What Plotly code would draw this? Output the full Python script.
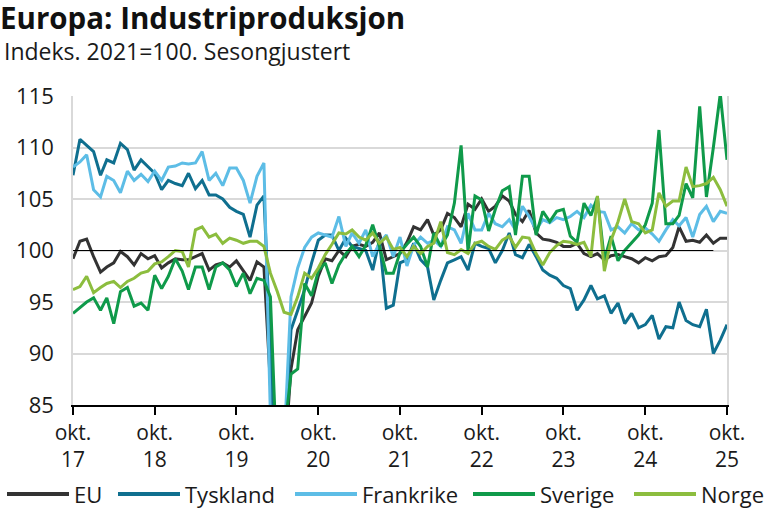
import plotly.graph_objects as go
import pandas as pd

months = pd.date_range("2017-10-01", "2025-10-01", freq="MS")

eu = [99.2, 100.9, 101.1, 99.4, 97.9, 98.4, 98.8, 99.9, 99.4, 98.6, 99.7, 99.2,
      99.5, 98.3, 98.8, 99.2, 99.1, 99.1, 99.4, 99.7, 98.1, 98.6, 98.8, 98.4,
      99.0, 98.0, 97.1, 98.9, 98.4, 87.0, 72.0, 79.0, 88.5, 92.3, 93.6, 94.9,
      97.5, 99.2, 99.0, 100.0, 99.4, 100.4, 100.6, 100.4, 100.8, 101.7, 99.1, 99.4,
      99.7, 100.8, 102.3, 102.0, 103.0, 101.5, 102.0, 103.6, 103.2, 102.3, 104.5, 104.0,
      105.0, 103.8, 104.3, 105.3, 104.8, 103.5, 102.8, 103.9, 101.7, 101.1, 101.0, 100.8,
      100.4, 100.4, 100.7, 99.7, 99.4, 99.7, 99.1, 99.5, 99.6, 99.4, 99.2, 98.8,
      99.3, 99.0, 99.4, 99.5, 100.3, 102.3, 100.9, 101.0, 100.8, 101.5, 100.7, 101.2, 101.2]

tyskland = [107.3, 110.8, 110.2, 109.6, 107.3, 108.8, 108.5, 110.4, 109.8, 107.8, 108.8, 108.1,
            107.5, 105.9, 106.8, 106.5, 106.3, 107.5, 106.0, 106.8, 105.4, 105.4, 105.0, 104.2,
            103.8, 103.5, 101.3, 104.4, 105.3, 91.0, 75.0, 80.0, 92.3, 94.2, 96.2, 98.8,
            101.0, 101.5, 101.5, 100.0, 101.2, 100.4, 100.2, 100.0, 98.1, 101.0, 94.4, 94.7,
            98.8, 99.1, 100.7, 99.1, 98.4, 95.2, 97.1, 98.8, 99.1, 99.4, 98.1, 100.7,
            100.4, 100.2, 98.8, 100.0, 101.7, 99.6, 99.3, 100.6, 99.4, 98.1, 97.6, 97.3,
            96.6, 96.3, 94.2, 95.2, 96.6, 95.3, 95.6, 93.9, 94.9, 92.9, 93.9, 92.5,
            92.8, 93.7, 91.4, 92.6, 92.5, 95.0, 93.2, 92.8, 92.6, 94.3, 90.0, 91.3, 92.8]

frankrike = [108.1, 108.6, 109.3, 105.9, 105.2, 107.2, 106.8, 105.6, 107.7, 106.8, 107.4, 106.7,
             107.7, 106.8, 108.1, 108.2, 108.5, 108.4, 108.5, 109.6, 106.8, 107.5, 106.3, 108.0,
             108.0, 106.8, 104.6, 107.2, 108.5, 84.0, 70.0, 81.0, 95.5, 98.3, 100.3, 101.3,
             101.7, 101.5, 101.3, 103.3, 100.4, 101.7, 100.7, 102.0, 99.4, 100.7, 101.5, 99.4,
             101.3, 98.5, 100.5, 101.3, 100.7, 101.0, 100.4, 102.3, 102.0, 100.7, 103.6, 102.0,
             102.0, 103.6, 102.6, 102.3, 103.0, 102.0, 104.3, 103.3, 102.0, 103.0, 102.7, 103.2,
             103.0, 103.3, 103.8, 103.2, 104.4, 103.8, 103.7, 102.0, 102.3, 101.7, 102.6, 102.0,
             102.2, 101.6, 100.9, 102.0, 103.0, 102.4, 103.2, 101.3, 103.5, 104.3, 102.8, 103.8, 103.6]

sverige = [93.9, 94.5, 95.0, 95.4, 94.2, 95.4, 92.9, 96.0, 96.4, 94.6, 94.9, 94.2,
           97.6, 96.3, 97.5, 99.2, 98.0, 96.2, 98.4, 98.4, 96.2, 98.4, 98.8, 98.1,
           96.5, 97.8, 95.8, 97.3, 97.1, 95.5, 78.0, 82.0, 88.0, 88.5, 96.8, 95.6,
           98.0, 98.8, 96.8, 98.6, 99.7, 100.4, 99.4, 100.5, 102.5, 100.4, 97.8, 97.8,
           99.8, 100.6, 101.3, 100.4, 98.4, 101.7, 100.4, 101.5, 104.6, 110.2, 99.9, 105.3,
           104.9, 101.9, 104.0, 105.8, 106.2, 101.5, 107.2, 107.2, 101.5, 103.8, 102.8, 103.8,
           104.0, 101.4, 100.8, 104.6, 103.4, 105.2, 99.1, 101.4, 99.0, 100.0, 100.7, 101.5,
           102.5, 104.6, 111.7, 102.6, 102.6, 103.4, 106.5, 105.1, 114.0, 105.2, 110.0, 115.2, 108.8]

norge = [96.2, 96.5, 97.5, 95.9, 96.4, 96.8, 97.0, 96.4, 97.0, 97.3, 97.8, 98.0,
         98.7, 98.9, 99.4, 100.0, 99.9, 98.4, 102.0, 102.3, 101.3, 101.6, 100.7, 101.2,
         101.0, 100.7, 100.9, 100.9, 100.4, 97.8, 96.0, 94.0, 93.8, 95.5, 97.8, 97.3,
         98.3, 99.6, 100.6, 101.7, 101.6, 102.0, 101.3, 101.0, 101.7, 100.7, 101.3, 100.1,
         100.3, 99.4, 100.4, 99.7, 100.4, 100.7, 102.8, 99.8, 99.6, 100.1, 99.7, 100.7,
         100.9, 100.4, 100.1, 101.0, 101.4, 100.3, 101.3, 101.2, 99.7, 98.6, 99.8, 100.5,
         100.9, 100.8, 100.6, 100.8, 99.4, 105.3, 98.0, 101.0, 102.8, 105.0, 102.8, 102.6,
         101.7, 102.0, 105.6, 104.3, 104.8, 104.8, 108.1, 106.2, 106.3, 106.5, 107.1, 105.9, 104.3]

names = ["EU", "Tyskland", "Frankrike", "Sverige", "Norge"]
colors = ["#333333", "#0f6f8f", "#5dbde6", "#0f9a4a", "#8cbd3e"]
series = [eu, tyskland, frankrike, sverige, norge]

tick_dates = months[::12]
tick_month = ["okt."] * len(tick_dates)
tick_year = [str(d.year)[2:] for d in tick_dates]
ref_level = 100
ref_end = months[94]

FONT = "Open Sans"
TXT = "#1a1a1a"

# plot area in pixels
L, T, PW, PH = 73, 96, 654, 309
W, H = 770, 513


def px_x(x):
    return (x - L) / PW


def px_y(y):
    return (T + PH - y) / PH


fig = go.Figure()
fig.add_trace(go.Scatter(x=[months[0], ref_end], y=[ref_level, ref_level], mode="lines",
                         xaxis="x2", line=dict(color="#000000", width=1),
                         showlegend=False, hoverinfo="skip"))
for n, s, c in zip(names, series, colors):
    fig.add_trace(go.Scatter(x=months, y=s, name=n, mode="lines",
                             line=dict(color=c, width=3), showlegend=False))

# legend drawn manually (line sample + label) to match the reference layout
leg_line_x = [(7, 69), (118, 180), (295, 357), (473, 535), (634, 696)]
leg_y = 494
shapes = []
annotations = []
for (x0, x1), n, c in zip(leg_line_x, names, colors):
    shapes.append(dict(type="line", xref="paper", yref="paper",
                       x0=px_x(x0), x1=px_x(x1), y0=px_y(leg_y), y1=px_y(leg_y),
                       line=dict(color=c, width=4)))
    annotations.append(dict(text=n, xref="paper", yref="paper", x=px_x(x1 + 3),
                            y=px_y(leg_y), xanchor="left", yanchor="middle",
                            showarrow=False, font=dict(family=FONT, size=22, color=TXT)))

annotations.append(dict(text="Indeks. 2021=100. Sesongjustert", xref="paper", yref="paper",
                        x=px_x(2), y=px_y(51), xanchor="left", yanchor="middle",
                        showarrow=False, font=dict(family=FONT, size=23, color=TXT)))

fig.update_layout(
    width=W, height=H,
    margin=dict(l=L, r=W - L - PW, t=T, b=H - T - PH, autoexpand=False),
    paper_bgcolor="white", plot_bgcolor="white",
    font=dict(family=FONT, color=TXT, size=21),
    title=dict(text="<b>Europa: Industriproduksjon</b>", x=0.0, xanchor="left",
               xref="container", y=1 - 19 / H, yanchor="middle", yref="container",
               font=dict(family=FONT, size=29.5, color="#111111"), pad=dict(t=0, l=0)),
    annotations=annotations,
    shapes=shapes,
    showlegend=False,
)
fig.update_layout(
    xaxis=dict(type="date", range=[months[0], months[-1]], tickvals=tick_dates,
               ticktext=tick_month, ticks="outside", ticklen=8, tickcolor="#000000",
               tickwidth=1.5, showline=True, linecolor="#000000", linewidth=1.5,
               showgrid=False, zeroline=False, tickfont=dict(size=21, color=TXT)),
    xaxis2=dict(type="date", range=[months[0], months[-1]], overlaying="x", anchor="y",
                side="bottom", tickvals=tick_dates, ticktext=tick_year, ticks="",
                showline=False, showgrid=False, zeroline=False, ticklabelstandoff=40,
                tickfont=dict(size=21, color=TXT)),
    yaxis=dict(range=[85, 115], dtick=5, showgrid=True, gridcolor="#d9d9d9",
               gridwidth=1.5, showline=True, linecolor="#d9d9d9", linewidth=1.5,
               mirror=True, ticks="", zeroline=False, ticklabelstandoff=13,
               tickfont=dict(size=22, color=TXT)),
)

fig.write_html("out.html", config={"displayModeBar": False},
               post_script="document.body.style.margin='0px';")
